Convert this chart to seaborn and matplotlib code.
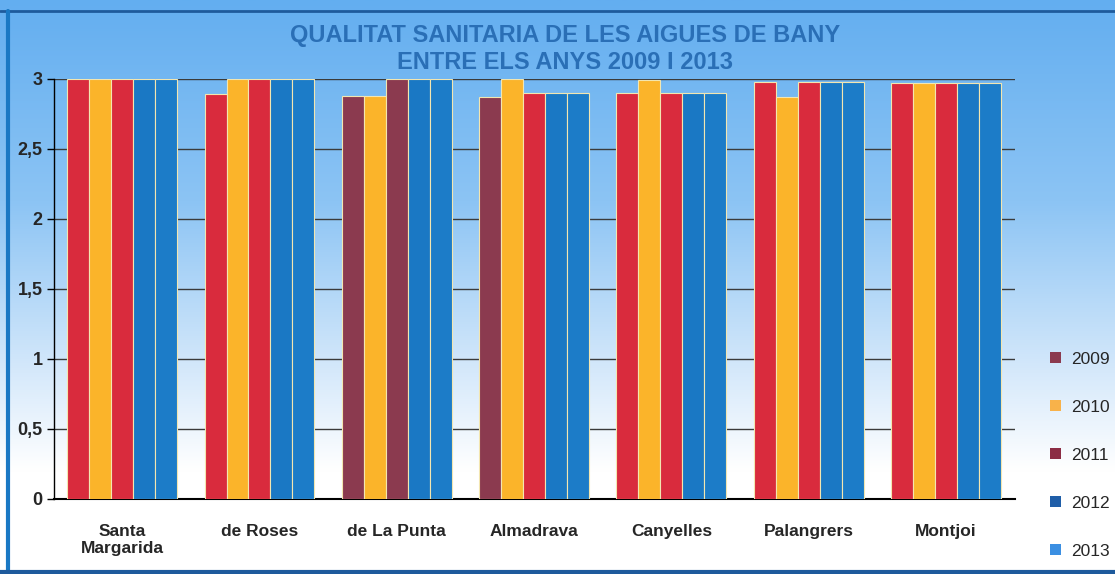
import numpy as np
import pandas as pd
import matplotlib
matplotlib.use("Agg")
import matplotlib.pyplot as plt
from matplotlib.colors import LinearSegmentedColormap
from matplotlib.patches import Patch
import seaborn as sns

# ---- data ----
categories = ["Santa\nMargarida", "de Roses", "de La Punta", "Almadrava",
              "Canyelles", "Palangrers", "Montjoi"]
years = ["2009", "2010", "2011", "2012", "2013"]
v2009 = [3.0, 2.89, 2.88, 2.87, 2.90, 2.98, 2.97]
v2010 = [3.0, 3.0, 2.88, 3.0, 2.99, 2.87, 2.97]
v2011 = [3.0, 3.0, 3.0, 2.90, 2.90, 2.98, 2.97]
v2012 = [3.0, 3.0, 3.0, 2.90, 2.90, 2.98, 2.97]
v2013 = [3.0, 3.0, 3.0, 2.90, 2.90, 2.98, 2.97]
yticks = [0, 0.5, 1, 1.5, 2, 2.5, 3]
ytick_labels = ["0", "0,5", "1", "1,5", "2", "2,5", "3"]
title = "QUALITAT SANITARIA DE LES AIGUES DE BANY\nENTRE ELS ANYS 2009 I 2013"

# ---- style ----
RED, ORANGE, BLUE, MAROON = "#d92b3d", "#fbb42a", "#1a78c4", "#8b3a4f"
bar_palette = {"2009": RED, "2010": ORANGE, "2011": RED, "2012": BLUE, "2013": "#1c7cc8"}
legend_colors = {"2009": "#8b3a4f", "2010": "#f8b24a", "2011": "#8c2d45",
                 "2012": "#1f5ea8", "2013": "#3b8fe2"}
maroon_bars = {("2009", 2), ("2011", 2), ("2009", 3)}

df = pd.DataFrame({
    "cat": categories * 5,
    "year": sum([[y] * len(categories) for y in years], []),
    "val": v2009 + v2010 + v2011 + v2012 + v2013,
})

sns.set_theme(style="white")
plt.rcParams["font.family"] = ["Liberation Sans", "DejaVu Sans"]

fig = plt.figure(figsize=(11.15, 5.74), dpi=100)

# background gradient
bg = fig.add_axes([0, 0, 1, 1], zorder=-5)
cmap = LinearSegmentedColormap.from_list(
    "bg", [(0, "#63aef0"), (0.35, "#8cc4f4"), (0.65, "#d6e9fb"), (0.82, "#ffffff"), (1, "#ffffff")])
grad = np.linspace(0, 1, 256).reshape(-1, 1)
bg.imshow(grad, aspect="auto", cmap=cmap, extent=[0, 1, 1, 0])
bg.set_xlim(0, 1); bg.set_ylim(1, 0)
bg.axis("off")
bg.plot([0, 1], [0.02, 0.02], color="#1e5a9c", lw=2)
bg.plot([0.007, 0.007], [0.02, 1], color="#1a78c4", lw=3)
bg.plot([0, 1], [0.997, 0.997], color="#1e5a9c", lw=3)

ax = fig.add_axes([0.048, 0.1307, 0.862, 0.7317])
ax.set_facecolor("none")
sns.barplot(data=df, x="cat", y="val", hue="year", palette=bar_palette,
            saturation=1, width=0.8, ax=ax, legend=False,
            edgecolor="#f3e6b0", linewidth=0.8, zorder=3)
for yr, cont in zip(years, ax.containers):
    for i, bar in enumerate(cont):
        if (yr, i) in maroon_bars:
            bar.set_facecolor(MAROON)

ax.set_ylim(0, 3)
ax.set_xlim(-0.5, 6.5)
ax.set_yticks(yticks)
ax.set_yticklabels(ytick_labels, fontsize=13, fontweight="bold")
for lbl in ax.get_xticklabels():
    lbl.set_fontweight("bold")
ax.tick_params(axis="x", labelsize=12.5, pad=18, length=0)
ax.tick_params(axis="y", left=True, length=5, width=1, color="black", pad=3)
ax.set_xlabel("")
ax.set_ylabel("")
for yv in yticks[1:]:
    ax.axhline(yv, color="#3a3a3a", lw=1, zorder=1)
for s in ["top", "right"]:
    ax.spines[s].set_visible(False)
ax.spines["left"].set_color("black")
ax.spines["bottom"].set_color("black")
ax.spines["left"].set_linewidth(1)
ax.spines["bottom"].set_linewidth(1.5)

fig.text(0.507, 0.9146, title, ha="center", va="center", fontsize=17,
         fontweight="bold", color="#2a6fb6", linespacing=1.2)

handles = [Patch(facecolor=legend_colors[y], edgecolor="none") for y in years]
fig.legend(handles, years, loc="center left", bbox_to_anchor=(0.928, 0.207),
           frameon=False, fontsize=12.5, handlelength=0.6, handleheight=0.6,
           handletextpad=0.6, labelspacing=1.9)

fig.savefig("out.png", dpi=100)
